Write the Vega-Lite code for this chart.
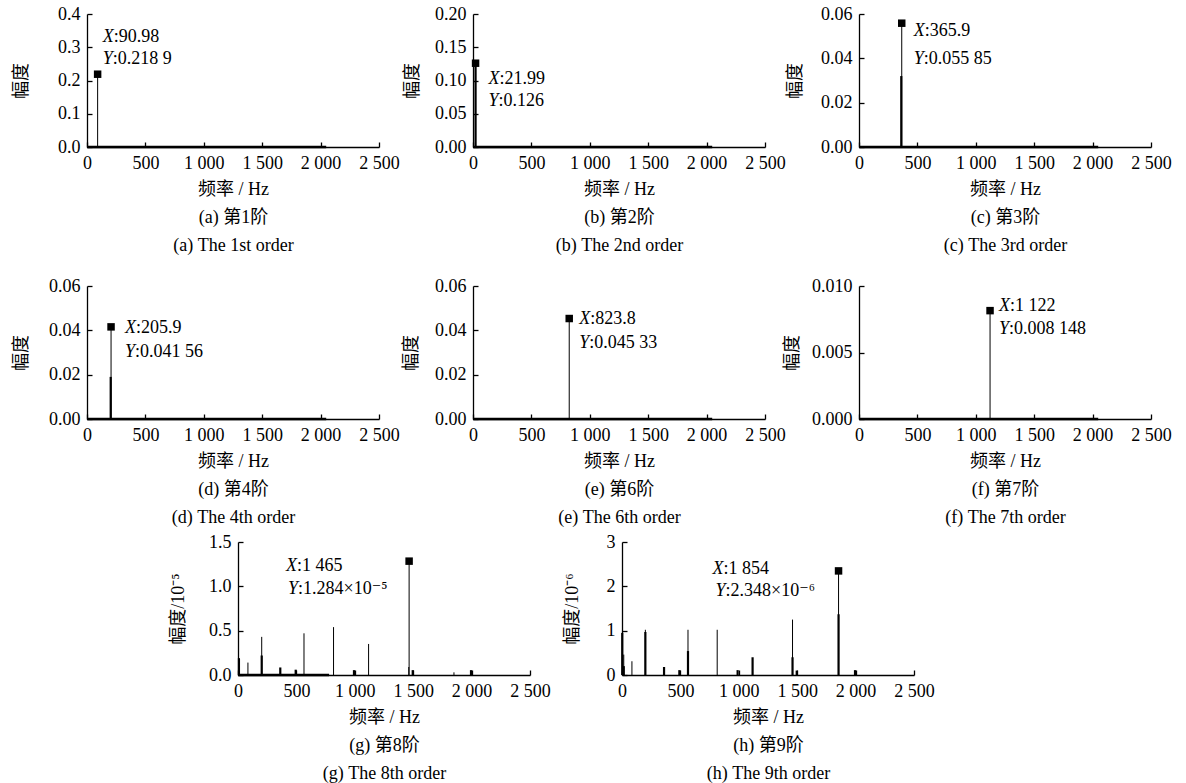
{
"$schema": "https://vega.github.io/schema/vega-lite/v6.json",
"background": "white",
"padding": {"left": 12, "top": 5, "right": 5, "bottom": 5},
"datasets": {
"lines": [
{"p":"a","f":90.98,"amp":0.2189,"w":"thin"},
{"p":"b","f":21.99,"amp":0.126,"w":"thick"},
{"p":"c","f":365.9,"amp":0.05585,"w":"thin"},
{"p":"c","f":362,"amp":0.032,"w":"thick"},
{"p":"d","f":205.9,"amp":0.04156,"w":"thin"},
{"p":"d","f":203,"amp":0.019,"w":"thick"},
{"p":"e","f":823.8,"amp":0.04533,"w":"thin"},
{"p":"f","f":1122,"amp":0.008148,"w":"thin"},
{"p":"g","f":8,"amp":0.19,"w":"thick"},
{"p":"g","f":85,"amp":0.14,"w":"thin"},
{"p":"g","f":203,"amp":0.43,"w":"thin"},
{"p":"g","f":203,"amp":0.22,"w":"thick"},
{"p":"g","f":362,"amp":0.085,"w":"thick"},
{"p":"g","f":494,"amp":0.06,"w":"thick"},
{"p":"g","f":565,"amp":0.47,"w":"thin"},
{"p":"g","f":818,"amp":0.54,"w":"thin"},
{"p":"g","f":993,"amp":0.055,"w":"thick"},
{"p":"g","f":1118,"amp":0.35,"w":"thin"},
{"p":"g","f":1465,"amp":1.284,"w":"thin"},
{"p":"g","f":1462,"amp":0.09,"w":"thin"},
{"p":"g","f":1496,"amp":0.055,"w":"thick"},
{"p":"g","f":1849,"amp":0.03,"w":"thin"},
{"p":"g","f":1995,"amp":0.055,"w":"thick"},
{"p":"h","f":2,"amp":0.95,"w":"thick"},
{"p":"h","f":15,"amp":0.46,"w":"thin"},
{"p":"h","f":15,"amp":0.2,"w":"thick"},
{"p":"h","f":85,"amp":0.31,"w":"thin"},
{"p":"h","f":200,"amp":1.02,"w":"thin"},
{"p":"h","f":200,"amp":0.97,"w":"thick"},
{"p":"h","f":360,"amp":0.18,"w":"thick"},
{"p":"h","f":491,"amp":0.11,"w":"thick"},
{"p":"h","f":565,"amp":1.02,"w":"thin"},
{"p":"h","f":565,"amp":0.54,"w":"thick"},
{"p":"h","f":815,"amp":1.02,"w":"thin"},
{"p":"h","f":990,"amp":0.11,"w":"thick"},
{"p":"h","f":1118,"amp":0.4,"w":"thick"},
{"p":"h","f":1460,"amp":1.25,"w":"thin"},
{"p":"h","f":1460,"amp":0.4,"w":"thick"},
{"p":"h","f":1496,"amp":0.1,"w":"thick"},
{"p":"h","f":1854,"amp":2.348,"w":"thin"},
{"p":"h","f":1854,"amp":1.37,"w":"thick"},
{"p":"h","f":1995,"amp":0.11,"w":"thick"}
],
"floor": [
{"p":"a","f":0,"f2":2048,"amp":0},
{"p":"b","f":0,"f2":2048,"amp":0},
{"p":"c","f":0,"f2":2048,"amp":0},
{"p":"d","f":0,"f2":2048,"amp":0},
{"p":"e","f":0,"f2":2048,"amp":0},
{"p":"f","f":0,"f2":2048,"amp":0},
{"p":"g","f":0,"f2":780,"amp":0}
],
"peaks": [
{"p":"a","f":90.98,"amp":0.2189,"xt":":90.98","yt":":0.218 9"},
{"p":"b","f":21.99,"amp":0.126,"xt":":21.99","yt":":0.126"},
{"p":"c","f":365.9,"amp":0.05585,"xt":":365.9","yt":":0.055 85"},
{"p":"d","f":205.9,"amp":0.04156,"xt":":205.9","yt":":0.041 56"},
{"p":"e","f":823.8,"amp":0.04533,"xt":":823.8","yt":":0.045 33"},
{"p":"f","f":1122,"amp":0.008148,"xt":":1 122","yt":":0.008 148"},
{"p":"g","f":1465,"amp":1.284,"xt":":1 465","yt":":1.284×10⁻⁵"},
{"p":"h","f":1854,"amp":2.348,"xt":":1 854","yt":":2.348×10⁻⁶"}
]
},
"bounds": "flush",
"spacing": 272,
"vconcat": [
{"hconcat": [
{"width": 292, "height": 133,
"encoding": {
"x": {"field": "f", "type": "quantitative", "scale": {"domain": [0, 2500], "nice": false, "zero": false}, "axis": {"values": [0,500,1000,1500,2000,2500], "labelExpr": "replace(format(datum.value, ','), ',', ' ')", "title": ["频率 / Hz", "(a) 第1阶", "(a) The 1st order"], "titleLineHeight": 28}},
"y": {"field": "amp", "type": "quantitative", "scale": {"domain": [0, 0.4], "nice": false}, "axis": {"values": [0,0.1,0.2,0.3,0.4], "format": ".1f", "title": "幅度", "titlePadding": 27}}},
"layer": [
{"data": {"name": "floor"}, "transform": [{"filter": "datum.p == 'a'"}], "mark": {"type": "rule", "color": "black", "strokeWidth": 2.5}, "encoding": {"x2": {"field": "f2"}}},
{"data": {"name": "lines"}, "transform": [{"filter": "datum.p == 'a'"}], "mark": {"type": "rule", "color": "black"}, "encoding": {"y2": {"datum": 0}, "strokeWidth": {"field": "w", "type": "ordinal", "scale": {"domain": ["thin","thick"], "range": [1, 2.2]}, "legend": null}}},
{"data": {"name": "peaks"}, "transform": [{"filter": "datum.p == 'a'"}], "mark": {"type": "point", "shape": "square", "filled": true, "color": "black", "opacity": 1, "size": 56}},
{"data": {"name": "peaks"}, "transform": [{"filter": "datum.p == 'a'"}], "mark": {"type": "text", "text": "X", "fontStyle": "italic", "align": "left", "baseline": "alphabetic", "dx": 5, "dy": -32}},
{"data": {"name": "peaks"}, "transform": [{"filter": "datum.p == 'a'"}], "mark": {"type": "text", "align": "left", "baseline": "alphabetic", "dx": 16, "dy": -32}, "encoding": {"text": {"field": "xt"}}},
{"data": {"name": "peaks"}, "transform": [{"filter": "datum.p == 'a'"}], "mark": {"type": "text", "text": "Y", "fontStyle": "italic", "align": "left", "baseline": "alphabetic", "dx": 5, "dy": -10}},
{"data": {"name": "peaks"}, "transform": [{"filter": "datum.p == 'a'"}], "mark": {"type": "text", "align": "left", "baseline": "alphabetic", "dx": 15, "dy": -10}, "encoding": {"text": {"field": "yt"}}}
]},
{"width": 292, "height": 133,
"encoding": {
"x": {"field": "f", "type": "quantitative", "scale": {"domain": [0, 2500], "nice": false, "zero": false}, "axis": {"values": [0,500,1000,1500,2000,2500], "labelExpr": "replace(format(datum.value, ','), ',', ' ')", "title": ["频率 / Hz", "(b) 第2阶", "(b) The 2nd order"], "titleLineHeight": 28}},
"y": {"field": "amp", "type": "quantitative", "scale": {"domain": [0, 0.2], "nice": false}, "axis": {"values": [0,0.05,0.1,0.15,0.2], "format": ".2f", "title": "幅度", "titlePadding": 13.5}}},
"layer": [
{"data": {"name": "floor"}, "transform": [{"filter": "datum.p == 'b'"}], "mark": {"type": "rule", "color": "black", "strokeWidth": 2.5}, "encoding": {"x2": {"field": "f2"}}},
{"data": {"name": "lines"}, "transform": [{"filter": "datum.p == 'b'"}], "mark": {"type": "rule", "color": "black"}, "encoding": {"y2": {"datum": 0}, "strokeWidth": {"field": "w", "type": "ordinal", "scale": {"domain": ["thin","thick"], "range": [1, 2.2]}, "legend": null}}},
{"data": {"name": "peaks"}, "transform": [{"filter": "datum.p == 'b'"}], "mark": {"type": "point", "shape": "square", "filled": true, "color": "black", "opacity": 1, "size": 56}},
{"data": {"name": "peaks"}, "transform": [{"filter": "datum.p == 'b'"}], "mark": {"type": "text", "text": "X", "fontStyle": "italic", "align": "left", "baseline": "alphabetic", "dx": 13, "dy": 21}},
{"data": {"name": "peaks"}, "transform": [{"filter": "datum.p == 'b'"}], "mark": {"type": "text", "align": "left", "baseline": "alphabetic", "dx": 24, "dy": 21}, "encoding": {"text": {"field": "xt"}}},
{"data": {"name": "peaks"}, "transform": [{"filter": "datum.p == 'b'"}], "mark": {"type": "text", "text": "Y", "fontStyle": "italic", "align": "left", "baseline": "alphabetic", "dx": 13, "dy": 43}},
{"data": {"name": "peaks"}, "transform": [{"filter": "datum.p == 'b'"}], "mark": {"type": "text", "align": "left", "baseline": "alphabetic", "dx": 23, "dy": 43}, "encoding": {"text": {"field": "yt"}}}
]},
{"width": 292, "height": 133,
"encoding": {
"x": {"field": "f", "type": "quantitative", "scale": {"domain": [0, 2500], "nice": false, "zero": false}, "axis": {"values": [0,500,1000,1500,2000,2500], "labelExpr": "replace(format(datum.value, ','), ',', ' ')", "title": ["频率 / Hz", "(c) 第3阶", "(c) The 3rd order"], "titleLineHeight": 28}},
"y": {"field": "amp", "type": "quantitative", "scale": {"domain": [0, 0.06], "nice": false}, "axis": {"values": [0,0.02,0.04,0.06], "format": ".2f", "title": "幅度", "titlePadding": 16}}},
"layer": [
{"data": {"name": "floor"}, "transform": [{"filter": "datum.p == 'c'"}], "mark": {"type": "rule", "color": "black", "strokeWidth": 2.5}, "encoding": {"x2": {"field": "f2"}}},
{"data": {"name": "lines"}, "transform": [{"filter": "datum.p == 'c'"}], "mark": {"type": "rule", "color": "black"}, "encoding": {"y2": {"datum": 0}, "strokeWidth": {"field": "w", "type": "ordinal", "scale": {"domain": ["thin","thick"], "range": [1, 2.2]}, "legend": null}}},
{"data": {"name": "peaks"}, "transform": [{"filter": "datum.p == 'c'"}], "mark": {"type": "point", "shape": "square", "filled": true, "color": "black", "opacity": 1, "size": 56}},
{"data": {"name": "peaks"}, "transform": [{"filter": "datum.p == 'c'"}], "mark": {"type": "text", "text": "X", "fontStyle": "italic", "align": "left", "baseline": "alphabetic", "dx": 12, "dy": 13}},
{"data": {"name": "peaks"}, "transform": [{"filter": "datum.p == 'c'"}], "mark": {"type": "text", "align": "left", "baseline": "alphabetic", "dx": 23, "dy": 13}, "encoding": {"text": {"field": "xt"}}},
{"data": {"name": "peaks"}, "transform": [{"filter": "datum.p == 'c'"}], "mark": {"type": "text", "text": "Y", "fontStyle": "italic", "align": "left", "baseline": "alphabetic", "dx": 12, "dy": 41}},
{"data": {"name": "peaks"}, "transform": [{"filter": "datum.p == 'c'"}], "mark": {"type": "text", "align": "left", "baseline": "alphabetic", "dx": 22, "dy": 41}, "encoding": {"text": {"field": "yt"}}}
]}
], "spacing": 94, "bounds": "flush"},
{"vconcat": [
{"hconcat": [
{"width": 292, "height": 133,
"encoding": {
"x": {"field": "f", "type": "quantitative", "scale": {"domain": [0, 2500], "nice": false, "zero": false}, "axis": {"values": [0,500,1000,1500,2000,2500], "labelExpr": "replace(format(datum.value, ','), ',', ' ')", "title": ["频率 / Hz", "(d) 第4阶", "(d) The 4th order"], "titleLineHeight": 28}},
"y": {"field": "amp", "type": "quantitative", "scale": {"domain": [0, 0.06], "nice": false}, "axis": {"values": [0,0.02,0.04,0.06], "format": ".2f", "title": "幅度", "titlePadding": 18.5}}},
"layer": [
{"data": {"name": "floor"}, "transform": [{"filter": "datum.p == 'd'"}], "mark": {"type": "rule", "color": "black", "strokeWidth": 2.5}, "encoding": {"x2": {"field": "f2"}}},
{"data": {"name": "lines"}, "transform": [{"filter": "datum.p == 'd'"}], "mark": {"type": "rule", "color": "black"}, "encoding": {"y2": {"datum": 0}, "strokeWidth": {"field": "w", "type": "ordinal", "scale": {"domain": ["thin","thick"], "range": [1, 2.2]}, "legend": null}}},
{"data": {"name": "peaks"}, "transform": [{"filter": "datum.p == 'd'"}], "mark": {"type": "point", "shape": "square", "filled": true, "color": "black", "opacity": 1, "size": 56}},
{"data": {"name": "peaks"}, "transform": [{"filter": "datum.p == 'd'"}], "mark": {"type": "text", "text": "X", "fontStyle": "italic", "align": "left", "baseline": "alphabetic", "dx": 14, "dy": 6}},
{"data": {"name": "peaks"}, "transform": [{"filter": "datum.p == 'd'"}], "mark": {"type": "text", "align": "left", "baseline": "alphabetic", "dx": 25, "dy": 6}, "encoding": {"text": {"field": "xt"}}},
{"data": {"name": "peaks"}, "transform": [{"filter": "datum.p == 'd'"}], "mark": {"type": "text", "text": "Y", "fontStyle": "italic", "align": "left", "baseline": "alphabetic", "dx": 14, "dy": 30}},
{"data": {"name": "peaks"}, "transform": [{"filter": "datum.p == 'd'"}], "mark": {"type": "text", "align": "left", "baseline": "alphabetic", "dx": 24, "dy": 30}, "encoding": {"text": {"field": "yt"}}}
]},
{"width": 292, "height": 133,
"encoding": {
"x": {"field": "f", "type": "quantitative", "scale": {"domain": [0, 2500], "nice": false, "zero": false}, "axis": {"values": [0,500,1000,1500,2000,2500], "labelExpr": "replace(format(datum.value, ','), ',', ' ')", "title": ["频率 / Hz", "(e) 第6阶", "(e) The 6th order"], "titleLineHeight": 28}},
"y": {"field": "amp", "type": "quantitative", "scale": {"domain": [0, 0.06], "nice": false}, "axis": {"values": [0,0.02,0.04,0.06], "format": ".2f", "title": "幅度", "titlePadding": 14.5}}},
"layer": [
{"data": {"name": "floor"}, "transform": [{"filter": "datum.p == 'e'"}], "mark": {"type": "rule", "color": "black", "strokeWidth": 2.5}, "encoding": {"x2": {"field": "f2"}}},
{"data": {"name": "lines"}, "transform": [{"filter": "datum.p == 'e'"}], "mark": {"type": "rule", "color": "black"}, "encoding": {"y2": {"datum": 0}, "strokeWidth": {"field": "w", "type": "ordinal", "scale": {"domain": ["thin","thick"], "range": [1, 2.2]}, "legend": null}}},
{"data": {"name": "peaks"}, "transform": [{"filter": "datum.p == 'e'"}], "mark": {"type": "point", "shape": "square", "filled": true, "color": "black", "opacity": 1, "size": 56}},
{"data": {"name": "peaks"}, "transform": [{"filter": "datum.p == 'e'"}], "mark": {"type": "text", "text": "X", "fontStyle": "italic", "align": "left", "baseline": "alphabetic", "dx": 10, "dy": 5}},
{"data": {"name": "peaks"}, "transform": [{"filter": "datum.p == 'e'"}], "mark": {"type": "text", "align": "left", "baseline": "alphabetic", "dx": 21, "dy": 5}, "encoding": {"text": {"field": "xt"}}},
{"data": {"name": "peaks"}, "transform": [{"filter": "datum.p == 'e'"}], "mark": {"type": "text", "text": "Y", "fontStyle": "italic", "align": "left", "baseline": "alphabetic", "dx": 10, "dy": 29}},
{"data": {"name": "peaks"}, "transform": [{"filter": "datum.p == 'e'"}], "mark": {"type": "text", "align": "left", "baseline": "alphabetic", "dx": 20, "dy": 29}, "encoding": {"text": {"field": "yt"}}}
]},
{"width": 292, "height": 133,
"encoding": {
"x": {"field": "f", "type": "quantitative", "scale": {"domain": [0, 2500], "nice": false, "zero": false}, "axis": {"values": [0,500,1000,1500,2000,2500], "labelExpr": "replace(format(datum.value, ','), ',', ' ')", "title": ["频率 / Hz", "(f) 第7阶", "(f) The 7th order"], "titleLineHeight": 28}},
"y": {"field": "amp", "type": "quantitative", "scale": {"domain": [0, 0.01], "nice": false}, "axis": {"values": [0,0.005,0.01], "format": ".3f", "title": "幅度", "titlePadding": 10.5}}},
"layer": [
{"data": {"name": "floor"}, "transform": [{"filter": "datum.p == 'f'"}], "mark": {"type": "rule", "color": "black", "strokeWidth": 2.5}, "encoding": {"x2": {"field": "f2"}}},
{"data": {"name": "lines"}, "transform": [{"filter": "datum.p == 'f'"}], "mark": {"type": "rule", "color": "black"}, "encoding": {"y2": {"datum": 0}, "strokeWidth": {"field": "w", "type": "ordinal", "scale": {"domain": ["thin","thick"], "range": [1, 2.2]}, "legend": null}}},
{"data": {"name": "peaks"}, "transform": [{"filter": "datum.p == 'f'"}], "mark": {"type": "point", "shape": "square", "filled": true, "color": "black", "opacity": 1, "size": 56}},
{"data": {"name": "peaks"}, "transform": [{"filter": "datum.p == 'f'"}], "mark": {"type": "text", "text": "X", "fontStyle": "italic", "align": "left", "baseline": "alphabetic", "dx": 9, "dy": 0}},
{"data": {"name": "peaks"}, "transform": [{"filter": "datum.p == 'f'"}], "mark": {"type": "text", "align": "left", "baseline": "alphabetic", "dx": 20, "dy": 0}, "encoding": {"text": {"field": "xt"}}},
{"data": {"name": "peaks"}, "transform": [{"filter": "datum.p == 'f'"}], "mark": {"type": "text", "text": "Y", "fontStyle": "italic", "align": "left", "baseline": "alphabetic", "dx": 9, "dy": 23}},
{"data": {"name": "peaks"}, "transform": [{"filter": "datum.p == 'f'"}], "mark": {"type": "text", "align": "left", "baseline": "alphabetic", "dx": 19, "dy": 23}, "encoding": {"text": {"field": "yt"}}}
]}
], "spacing": 94, "bounds": "flush"},
{"hconcat": [
{"width": 59, "height": 133, "data": {"values": []}, "mark": "point"},
{"width": 292, "height": 133,
"encoding": {
"x": {"field": "f", "type": "quantitative", "scale": {"domain": [0, 2500], "nice": false, "zero": false}, "axis": {"values": [0,500,1000,1500,2000,2500], "labelExpr": "replace(format(datum.value, ','), ',', ' ')", "title": ["频率 / Hz", "(g) 第8阶", "(g) The 8th order"], "titleLineHeight": 28}},
"y": {"field": "amp", "type": "quantitative", "scale": {"domain": [0, 1.5], "nice": false}, "axis": {"values": [0,0.5,1,1.5], "format": ".1f", "title": "幅度/10⁻⁵", "titlePadding": 21.5}}},
"layer": [
{"data": {"name": "floor"}, "transform": [{"filter": "datum.p == 'g'"}], "mark": {"type": "rule", "color": "black", "strokeWidth": 2.5}, "encoding": {"x2": {"field": "f2"}}},
{"data": {"name": "lines"}, "transform": [{"filter": "datum.p == 'g'"}], "mark": {"type": "rule", "color": "black"}, "encoding": {"y2": {"datum": 0}, "strokeWidth": {"field": "w", "type": "ordinal", "scale": {"domain": ["thin","thick"], "range": [1, 2.2]}, "legend": null}}},
{"data": {"name": "peaks"}, "transform": [{"filter": "datum.p == 'g'"}], "mark": {"type": "point", "shape": "square", "filled": true, "color": "black", "opacity": 1, "size": 56}},
{"data": {"name": "peaks"}, "transform": [{"filter": "datum.p == 'g'"}], "mark": {"type": "text", "text": "X", "fontStyle": "italic", "align": "left", "baseline": "alphabetic", "dx": -123, "dy": 10}},
{"data": {"name": "peaks"}, "transform": [{"filter": "datum.p == 'g'"}], "mark": {"type": "text", "align": "left", "baseline": "alphabetic", "dx": -112, "dy": 10}, "encoding": {"text": {"field": "xt"}}},
{"data": {"name": "peaks"}, "transform": [{"filter": "datum.p == 'g'"}], "mark": {"type": "text", "text": "Y", "fontStyle": "italic", "align": "left", "baseline": "alphabetic", "dx": -121, "dy": 33}},
{"data": {"name": "peaks"}, "transform": [{"filter": "datum.p == 'g'"}], "mark": {"type": "text", "align": "left", "baseline": "alphabetic", "dx": -111, "dy": 33}, "encoding": {"text": {"field": "yt"}}}
]},
{"width": 292, "height": 133,
"encoding": {
"x": {"field": "f", "type": "quantitative", "scale": {"domain": [0, 2500], "nice": false, "zero": false}, "axis": {"values": [0,500,1000,1500,2000,2500], "labelExpr": "replace(format(datum.value, ','), ',', ' ')", "title": ["频率 / Hz", "(h) 第9阶", "(h) The 9th order"], "titleLineHeight": 28}},
"y": {"field": "amp", "type": "quantitative", "scale": {"domain": [0, 3], "nice": false}, "axis": {"values": [0,1,2,3], "format": "d", "title": "幅度/10⁻⁶", "titlePadding": 25}}},
"layer": [
{"data": {"name": "floor"}, "transform": [{"filter": "datum.p == 'h'"}], "mark": {"type": "rule", "color": "black", "strokeWidth": 2.5}, "encoding": {"x2": {"field": "f2"}}},
{"data": {"name": "lines"}, "transform": [{"filter": "datum.p == 'h'"}], "mark": {"type": "rule", "color": "black"}, "encoding": {"y2": {"datum": 0}, "strokeWidth": {"field": "w", "type": "ordinal", "scale": {"domain": ["thin","thick"], "range": [1, 2.2]}, "legend": null}}},
{"data": {"name": "peaks"}, "transform": [{"filter": "datum.p == 'h'"}], "mark": {"type": "point", "shape": "square", "filled": true, "color": "black", "opacity": 1, "size": 56}},
{"data": {"name": "peaks"}, "transform": [{"filter": "datum.p == 'h'"}], "mark": {"type": "text", "text": "X", "fontStyle": "italic", "align": "left", "baseline": "alphabetic", "dx": -126, "dy": 3}},
{"data": {"name": "peaks"}, "transform": [{"filter": "datum.p == 'h'"}], "mark": {"type": "text", "align": "left", "baseline": "alphabetic", "dx": -115, "dy": 3}, "encoding": {"text": {"field": "xt"}}},
{"data": {"name": "peaks"}, "transform": [{"filter": "datum.p == 'h'"}], "mark": {"type": "text", "text": "Y", "fontStyle": "italic", "align": "left", "baseline": "alphabetic", "dx": -123, "dy": 25}},
{"data": {"name": "peaks"}, "transform": [{"filter": "datum.p == 'h'"}], "mark": {"type": "text", "align": "left", "baseline": "alphabetic", "dx": -113, "dy": 25}, "encoding": {"text": {"field": "yt"}}}
]}
], "spacing": 92, "bounds": "flush"}
], "spacing": 256, "bounds": "flush"}
],
"config": {
"font": "Liberation Serif, Noto Sans CJK SC",
"view": {"stroke": null},
"axis": {"labelFont": "Liberation Serif, Noto Sans CJK SC", "titleFont": "Liberation Serif, Noto Sans CJK SC", "labelFontSize": 18, "titleFontSize": 18, "titleFontWeight": "normal", "labelColor": "black", "titleColor": "black", "domainColor": "black", "tickColor": "black", "domainWidth": 1.3, "tickWidth": 1.3, "tickSize": -5, "labelPadding": 12, "grid": false, "labelFlush": false, "labelOverlap": false, "titlePadding": 8},
"text": {"font": "Liberation Serif, DejaVu Serif", "fontSize": 18, "color": "black"}
}
}
